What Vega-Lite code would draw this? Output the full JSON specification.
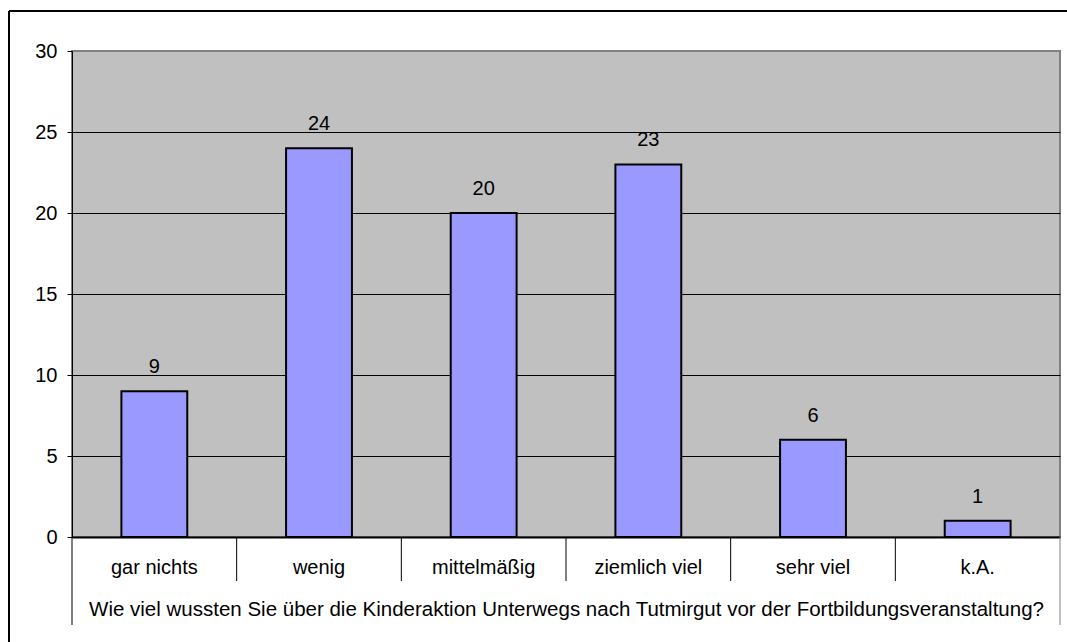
{
  "$schema": "https://vega.github.io/schema/vega-lite/v6.json",
  "width": 988,
  "height": 486,
  "autosize": {"type": "none"},
  "padding": {"left": 72, "top": 51, "right": 7, "bottom": 105},
  "background": "white",
  "data": {
    "values": [
      {"antwort": "gar nichts", "anzahl": 9},
      {"antwort": "wenig", "anzahl": 24},
      {"antwort": "mittelmäßig", "anzahl": 20},
      {"antwort": "ziemlich viel", "anzahl": 23},
      {"antwort": "sehr viel", "anzahl": 6},
      {"antwort": "k.A.", "anzahl": 1}
    ]
  },
  "config": {
    "font": "Liberation Sans",
    "view": {"fill": "#C0C0C0", "stroke": "#808080", "strokeWidth": 2}
  },
  "layer": [
    {
      "mark": {"type": "bar", "color": "#9999FF", "stroke": "black", "strokeWidth": 2, "width": {"band": 0.4}},
      "encoding": {
        "x": {
          "field": "antwort", "type": "nominal", "sort": null,
          "scale": {"paddingInner": 0, "paddingOuter": 0},
          "title": "Wie viel wussten Sie über die Kinderaktion Unterwegs nach Tutmirgut vor der Fortbildungsveranstaltung?",
          "axis": {
            "orient": "bottom", "ticks": false, "labelAngle": 0,
            "domainColor": "black", "domainWidth": 2,
            "labelFontSize": 20, "labelColor": "black", "labelPadding": 20,
            "titleFontSize": 20.5, "titleFontWeight": "normal", "titleColor": "black", "titlePadding": 22
          }
        },
        "y": {
          "field": "anzahl", "type": "quantitative",
          "scale": {"domain": [0, 30], "nice": false},
          "axis": {
            "title": null, "values": [0, 5, 10, 15, 20, 25, 30],
            "grid": true,
            "gridColor": {"condition": {"test": "datum.value === 30", "value": "#808080"}, "value": "black"},
            "domainColor": "black", "tickColor": "black", "tickSize": 5,
            "labelFontSize": 20, "labelColor": "black", "labelPadding": 10
          }
        }
      }
    },
    {
      "mark": {"type": "text", "baseline": "alphabetic", "dy": -18, "fontSize": 20, "color": "black"},
      "encoding": {
        "x": {"field": "antwort", "type": "nominal", "sort": null},
        "y": {"field": "anzahl", "type": "quantitative"},
        "text": {"field": "anzahl", "type": "quantitative"}
      }
    },
    {
      "transform": [{"filter": "datum.antwort !== 'gar nichts'"}],
      "mark": {"type": "rule", "color": "black", "strokeWidth": 1},
      "encoding": {
        "x": {"field": "antwort", "type": "nominal", "sort": null, "bandPosition": 0},
        "y": {"datum": 0},
        "y2": {"datum": -2.716}
      }
    },
    {
      "transform": [{"filter": "datum.antwort === 'gar nichts'"}],
      "mark": {"type": "rule", "color": "black", "strokeWidth": 1},
      "encoding": {
        "x": {"field": "antwort", "type": "nominal", "sort": null, "bandPosition": 0},
        "y": {"datum": 0},
        "y2": {"datum": -5.432}
      }
    },
    {
      "transform": [{"filter": "datum.antwort === 'k.A.'"}],
      "mark": {"type": "rule", "color": "#808080", "strokeWidth": 1},
      "encoding": {
        "x": {"field": "antwort", "type": "nominal", "sort": null, "bandPosition": 1},
        "y": {"datum": 0},
        "y2": {"datum": -5.432}
      }
    },
    {
      "transform": [{"filter": "datum.antwort === 'gar nichts'"}],
      "mark": {"type": "rule", "color": "black", "strokeWidth": 2, "xOffset": -63},
      "encoding": {
        "x": {"field": "antwort", "type": "nominal", "sort": null, "bandPosition": 0},
        "y": {"datum": 32.47},
        "y2": {"datum": -7}
      }
    },
    {
      "transform": [{"filter": "datum.antwort === 'gar nichts'"}],
      "mark": {"type": "rule", "color": "black", "strokeWidth": 2, "xOffset": -63, "x2Offset": 100},
      "encoding": {
        "x": {"field": "antwort", "type": "nominal", "sort": null, "bandPosition": 0},
        "x2": {"datum": "k.A."},
        "y": {"datum": 32.47}
      }
    }
  ]
}
